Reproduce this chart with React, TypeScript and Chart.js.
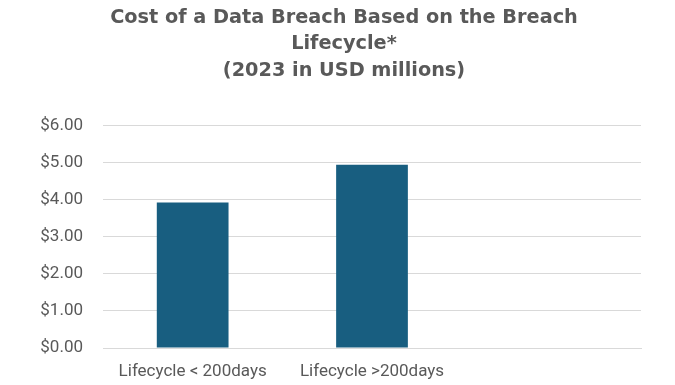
import React, { useEffect, useRef } from "react";
import { Chart, registerables } from "chart.js";

Chart.register(...registerables);

const categories: string[] = ["Lifecycle < 200days", "Lifecycle >200days", ""];
const costValues: (number | null)[] = [3.93, 4.95, null];
const titleLines: string[] = [
  "Cost of a Data Breach Based on the Breach",
  "Lifecycle*",
  "(2023 in USD millions)",
];

const shiftTitle = {
  id: "shiftTitle",
  afterLayout(chart: any) {
    const tb = chart.titleBlock;
    if (tb) {
      tb.left = 13;
      tb.right = chart.width;
    }
  },
};

export default function App() {
  const ref = useRef<HTMLCanvasElement | null>(null);
  useEffect(() => {
    if (!ref.current) return;
    const chart = new Chart(ref.current, {
      type: "bar",
      data: {
        labels: categories,
        datasets: [
          {
            data: costValues,
            backgroundColor: "#185e80",
            barPercentage: 1,
            categoryPercentage: 0.4,
          },
        ],
      },
      options: {
        animation: false,
        responsive: false,
        maintainAspectRatio: false,
        layout: { padding: { left: 0, right: 34, top: 0, bottom: 0 } },
        plugins: {
          legend: { display: false },
          tooltip: { enabled: false },
          title: {
            display: true,
            text: titleLines,
            color: "#595959",
            font: { family: "'DejaVu Sans', sans-serif", size: 19.3, weight: "bold", lineHeight: 1.36 },
            padding: { top: 5, bottom: 42 },
          },
        },
        scales: {
          x: {
            afterFit: (axis: any) => {
              axis.height = 37;
            },
            grid: { display: false, drawTicks: false },
            border: { display: true, color: "#d9d9d9" },
            ticks: {
              color: "#595959",
              font: { family: "Roboto, sans-serif", size: 17 },
              padding: 14,
              maxRotation: 0,
            },
          },
          y: {
            min: 0,
            max: 6,
            afterFit: (axis: any) => {
              axis.width = 103;
            },
            grid: { color: "#d9d9d9", drawTicks: false },
            border: { display: false },
            ticks: {
              stepSize: 1,
              color: "#595959",
              font: { family: "Roboto, sans-serif", size: 17 },
              padding: 20,
              callback: (v: any) => "$" + Number(v).toFixed(2),
            },
          },
        },
      },
      plugins: [shiftTitle],
    });
    return () => chart.destroy();
  }, []);
  return (
    <div style={{ position: "fixed", left: 0, top: 0, width: 675, height: 385, background: "#fff" }}>
      <canvas ref={ref} width={675} height={385} />
    </div>
  );
}
